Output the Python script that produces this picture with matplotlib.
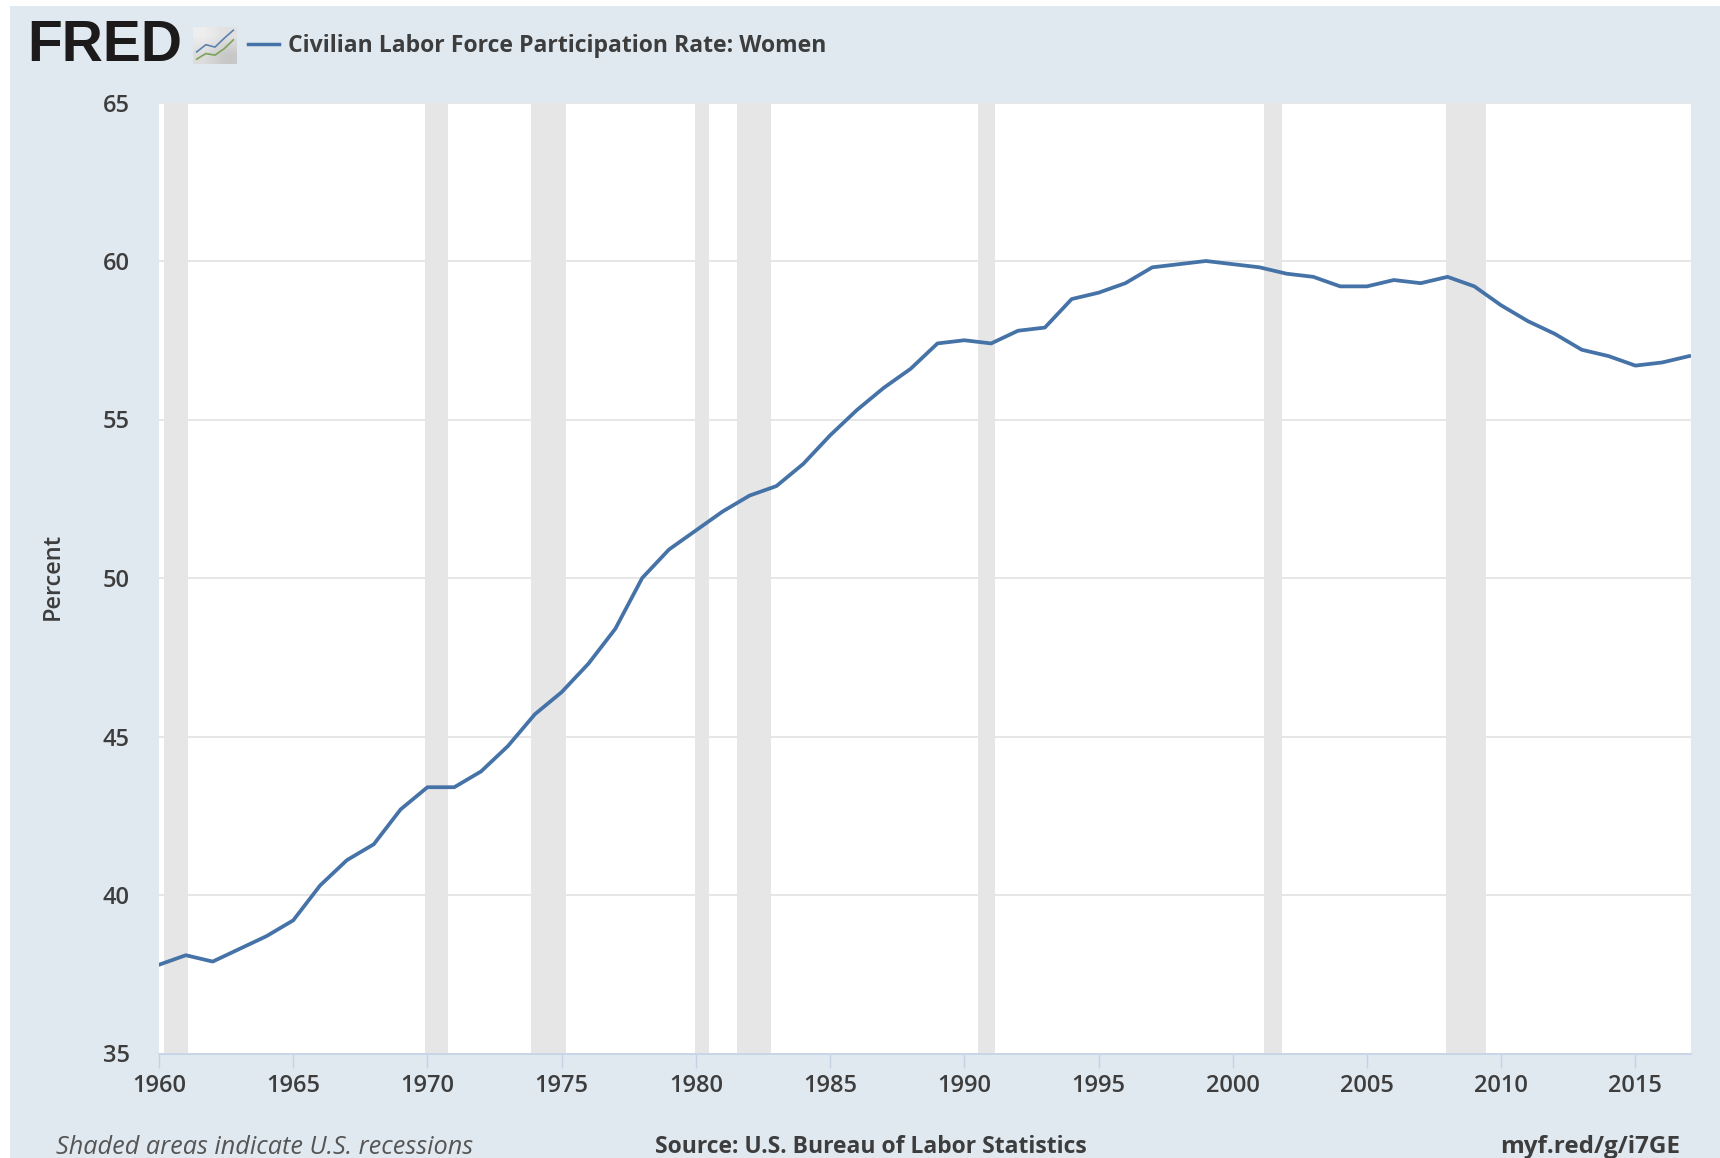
import matplotlib
matplotlib.use('Agg')
import matplotlib.pyplot as plt
from matplotlib.patches import Rectangle

# annual values
years = list(range(1960, 2018))
rate = [37.8, 38.1, 37.9, 38.3, 38.7, 39.2, 40.3, 41.1, 41.6, 42.7,
        43.4, 43.4, 43.9, 44.7, 45.7, 46.4, 47.3, 48.4, 50.0, 50.9,
        51.5, 52.1, 52.6, 52.9, 53.6, 54.5, 55.3, 56.0, 56.6, 57.4,
        57.5, 57.4, 57.8, 57.9, 58.8, 59.0, 59.3, 59.8, 59.9, 60.0,
        59.9, 59.8, 59.6, 59.5, 59.2, 59.2, 59.4, 59.3, 59.5, 59.2,
        58.6, 58.1, 57.7, 57.2, 57.0, 56.7, 56.8, 57.0]
recession_start = [1960.2, 1969.9, 1973.85, 1979.97, 1981.52, 1990.5, 2001.15, 2007.95]
recession_end = [1961.08, 1970.77, 1975.17, 1980.48, 1982.8, 1991.15, 2001.82, 2009.45]
x_ticks = list(range(1960, 2016, 5))
y_ticks = [35, 40, 45, 50, 55, 60, 65]

title = 'Civilian Labor Force Participation Rate: Women'
note = 'Shaded areas indicate U.S. recessions'
source = 'Source: U.S. Bureau of Labor Statistics'
link = 'myf.red/g/i7GE'

W, H = 1720, 1158
bg = '#e1e9f0'
text_col = '#3d3d3d'

plt.rcParams['font.family'] = ['Open Sans', 'DejaVu Sans']

fig = plt.figure(figsize=(W / 100, H / 100), dpi=100, facecolor='white')
# panel behind the chart, white strip stays on the left and top
fig.add_artist(Rectangle((10 / W, 0), 1 - 10 / W, 1 - 6 / H, transform=fig.transFigure,
                         facecolor=bg, edgecolor='none', zorder=-5))

ax = fig.add_axes([159 / W, 1 - 1053.5 / H, (1691 - 159) / W, (1053.5 - 102.5) / H])
ax.set_facecolor('white')
for start, end in zip(recession_start, recession_end):
    ax.axvspan(start, end, color='#e6e6e6', lw=0, zorder=1)
ax.plot(years, rate, color='#4572a7', lw=2.7, zorder=3, solid_joinstyle='round')

ax.set_xlim(1960, 2017.07)
ax.set_ylim(35, 65)
ax.set_xticks(x_ticks)
ax.set_yticks(y_ticks)
ax.grid(axis='y', color='#e6e6e6', lw=1.4, zorder=0)
ax.set_axisbelow(True)
for side in ['top', 'left', 'right']:
    ax.spines[side].set_visible(False)
ax.spines['bottom'].set_color('#c5d2e6')
ax.spines['bottom'].set_linewidth(1.2)
ax.tick_params(axis='x', color='#c5d2e6', length=10, width=1, labelsize=17,
               labelcolor=text_col, pad=5)
ax.tick_params(axis='y', length=0, labelsize=17, labelcolor=text_col, pad=21)
for lab in ax.get_xticklabels() + ax.get_yticklabels():
    lab.set_fontweight('semibold')

fig.text(53 / W, 1 - 576 / H, 'Percent', rotation=90, ha='center', va='center',
         fontsize=17, fontweight='semibold', color=text_col)

# header: logo, small chart icon, legend line and series name
fig.text(27 / W, 1 - 46 / H, 'FRED', ha='left', va='center', fontsize=41, fontweight='bold',
         family=['Liberation Sans'], color='#1c1a1a')
icon = fig.add_axes([193 / W, 1 - 64 / H, 44 / W, 37 / H])
icon.imshow([[0.93, 0.88], [0.86, 0.78]], cmap='gray', vmin=0, vmax=1, extent=(-0.4, 4.4, 0, 4.6),
            aspect='auto', interpolation='bilinear')
icon.plot([0, 1, 2, 3, 4], [1.5, 2.4, 2.1, 3.2, 4.2], color='#5b82b0', lw=1.2)
icon.plot([0, 1, 2, 3, 4], [0.6, 1.3, 1.1, 1.9, 3.0], color='#7da35a', lw=1.2)
icon.set_xlim(-0.4, 4.4)
icon.set_ylim(0, 4.6)
icon.axis('off')
fig.add_artist(plt.Line2D([248 / W, 279 / W], [1 - 44 / H, 1 - 44 / H], color='#4572a7', lw=2.5))
fig.text(288 / W, 1 - 46 / H, title, ha='left', va='center', fontsize=16.6, fontweight='bold',
         color=text_col)

# footer
fig.text(56 / W, 1 - 1147 / H, note, ha='left', va='center', fontsize=18.2, style='italic',
         color='#555555')
fig.text(655 / W, 1 - 1147 / H, source, ha='left', va='center', fontsize=16.5, fontweight='bold',
         color=text_col)
fig.text(1680 / W, 1 - 1147 / H, link, ha='right', va='center', fontsize=17.5, fontweight='bold',
         color=text_col)

fig.savefig('out.png', dpi=100, facecolor='white')
